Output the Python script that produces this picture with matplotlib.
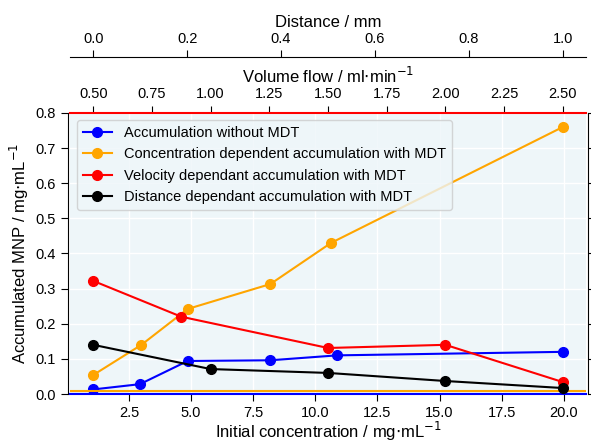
import numpy as np
import matplotlib
matplotlib.use("Agg")
import matplotlib.pyplot as plt

plt.rcParams['font.family'] = ['Liberation Sans', 'DejaVu Sans']
plt.rcParams['font.size'] = 10.5

# concentration series (bottom axis)
conc_blue = [1.06, 2.94, 4.86, 8.19, 10.87, 19.96]
acc_blue = [0.013, 0.028, 0.094, 0.096, 0.110, 0.120]
conc_orange = [1.06, 3.0, 4.86, 8.19, 10.63, 19.96]
acc_orange = [0.054, 0.14, 0.242, 0.313, 0.43, 0.76]

# volume flow series (top axis)
flow_red = [0.5, 0.875, 1.5, 2.0, 2.5]
acc_red = [0.322, 0.22, 0.131, 0.14, 0.034]

# distance series (outer top axis)
dist_black = [0.0, 0.25, 0.5, 0.75, 1.0]
acc_black = [0.14, 0.071, 0.06, 0.037, 0.017]

labels = ["Accumulation without MDT",
          "Concentration dependent accumulation with MDT",
          "Velocity dependant accumulation with MDT",
          "Distance dependant accumulation with MDT"]

fig = plt.figure(figsize=(5.91, 4.44), dpi=100)
ax = fig.add_axes([0.118, 0.1126, 0.874, 0.633])
ax.set_facecolor('#eef6f9')
ax.grid(True, color='white', lw=1)
ax.set_axisbelow(True)

l1, = ax.plot(conc_blue, acc_blue, 'o-', color='blue', ms=7, lw=1.5)
l2, = ax.plot(conc_orange, acc_orange, 'o-', color='orange', ms=7, lw=1.5)
ax.axhline(0.009, color='orange', lw=1.5)
ax.set_ylim(0, 0.8)
ax.set_xlabel("Initial concentration / mg$\\cdot$mL$^{-1}$", fontsize=12, labelpad=0)
ax.set_ylabel("Accumulated MNP / mg$\\cdot$mL$^{-1}$", fontsize=12, labelpad=3)
ax.spines['bottom'].set_color('blue')
ax.spines['bottom'].set_linewidth(1.5)
ax.spines['top'].set_visible(False)
ax.spines['left'].set_position(('outward', 1.5))
ax.spines['right'].set_position(('outward', 1.0))
ax.tick_params(direction='out', length=5, right=True, labelright=False)

ax2 = ax.twiny()
l3, = ax2.plot(flow_red, acc_red, 'o-', color='red', ms=7, lw=1.5)
ax2.set_xlabel("Volume flow / ml$\\cdot$min$^{-1}$", fontsize=12, labelpad=3)
ax2.set_xticks([0.5, 0.75, 1.0, 1.25, 1.5, 1.75, 2.0, 2.25, 2.5])
for s in ['bottom', 'left', 'right']:
    ax2.spines[s].set_visible(False)
ax2.spines['top'].set_color('red')
ax2.spines['top'].set_linewidth(1.5)
ax2.tick_params(direction='out', length=5)

ax3 = ax.twiny()
l4, = ax3.plot(dist_black, acc_black, 'o-', color='black', ms=7, lw=1.5)
ax3.set_xlabel("Distance / mm", fontsize=12, labelpad=3)
ax3.spines['top'].set_position(('outward', 40))
for s in ['bottom', 'left', 'right']:
    ax3.spines[s].set_visible(False)
ax3.tick_params(direction='out', length=5)
ax3.set_ylim(0, 0.8)

leg = ax3.legend([l1, l2, l3, l4], labels, loc='upper left', fontsize=10.5,
                 framealpha=0.8, edgecolor='#cccccc', facecolor='#eef6f9')

fig.savefig("out.png", dpi=100)
